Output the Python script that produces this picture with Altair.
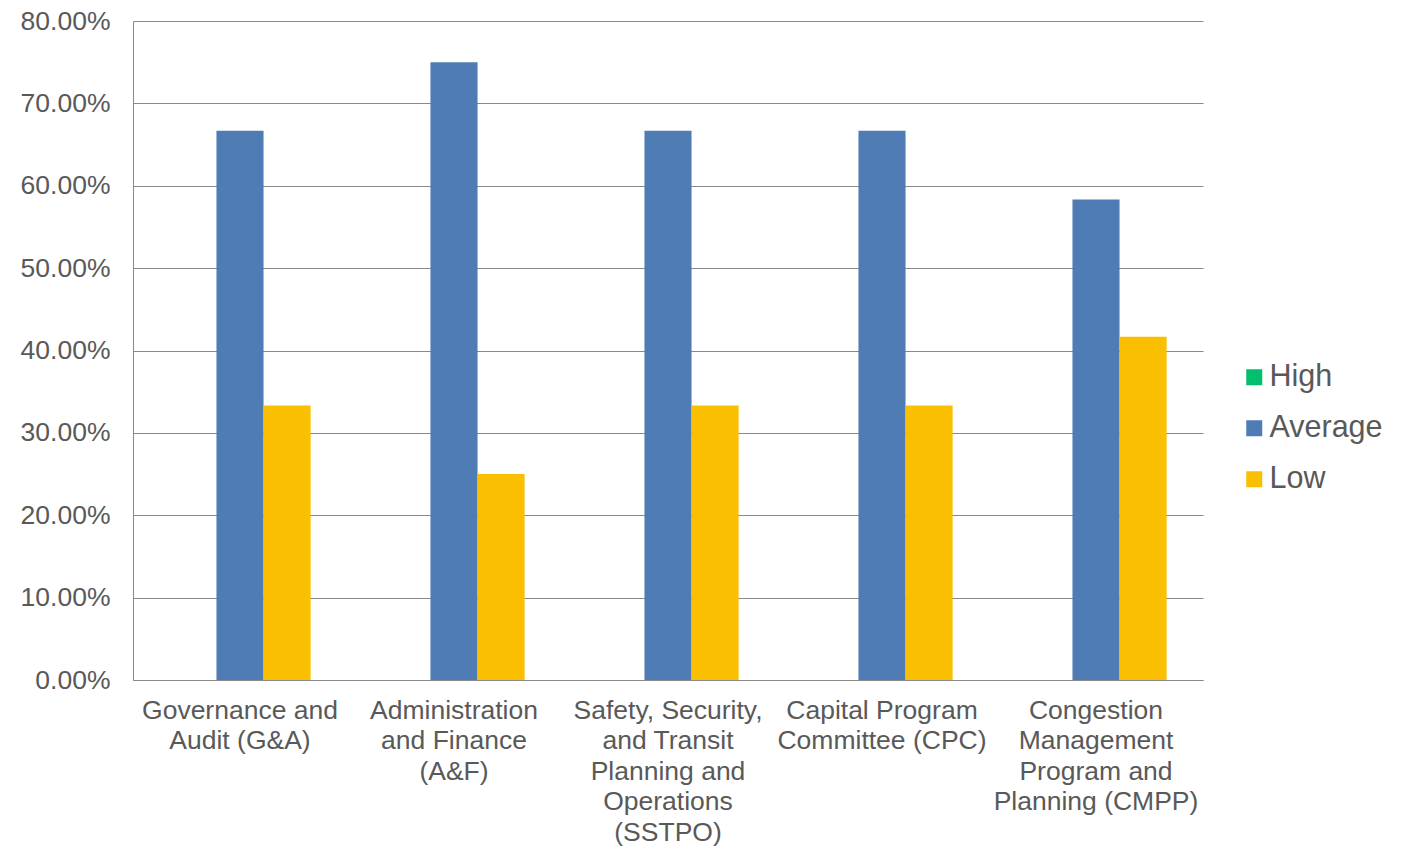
import altair as alt
import pandas as pd

categories = [
    "Governance and|Audit (G&A)",
    "Administration|and Finance|(A&F)",
    "Safety, Security,|and Transit|Planning and|Operations|(SSTPO)",
    "Capital Program|Committee (CPC)",
    "Congestion|Management|Program and|Planning (CMPP)",
]
series = ["High", "Average", "Low"]
high = [0.0, 0.0, 0.0, 0.0, 0.0]
average = [0.6667, 0.75, 0.6667, 0.6667, 0.5833]
low = [0.3333, 0.25, 0.3333, 0.3333, 0.4167]
colors = ["#00BF6F", "#4F7CB5", "#F9BF00"]
y_ticks = [0, 0.1, 0.2, 0.3, 0.4, 0.5, 0.6, 0.7, 0.8]

rows = []
for i, c in enumerate(categories):
    for s, vals in zip(series, [high, average, low]):
        rows.append({"category": c, "series": s, "value": vals[i]})
df = pd.DataFrame(rows)

FONT = "Liberation Sans"
GRAY = "#595959"

chart = alt.Chart(df).mark_bar().encode(
    x=alt.X(
        "category:N",
        sort=categories,
        scale=alt.Scale(paddingInner=0.34, paddingOuter=0.17),
        axis=alt.Axis(
            title=None,
            labelAngle=0,
            labelExpr="split(datum.label, '|')",
            labelFontSize=26.5,
            labelLineHeight=30.5,
            labelColor=GRAY,
            labelFont=FONT,
            labelPadding=17,
            labelLimit=400,
            ticks=False,
            domainColor="#898989",
            grid=False,
        ),
    ),
    xOffset=alt.XOffset("series:N", sort=series),
    y=alt.Y(
        "value:Q",
        scale=alt.Scale(domain=[0, 0.8], nice=False),
        axis=alt.Axis(
            title=None,
            format=".2%",
            values=y_ticks,
            labelFontSize=26.5,
            labelColor=GRAY,
            labelFont=FONT,
            labelPadding=23,
            ticks=False,
            domainColor="#898989",
            gridColor="#898989",
        ),
    ),
    color=alt.Color(
        "series:N",
        sort=series,
        scale=alt.Scale(domain=series, range=colors),
        legend=alt.Legend(
            title=None,
            orient="none",
            legendX=1106,
            legendY=341,
            symbolType="square",
            symbolSize=256,
            symbolStrokeWidth=0,
            labelFontSize=30.5,
            labelFont=FONT,
            labelColor=GRAY,
            rowPadding=20,
            labelOffset=0,
        ),
    ),
).properties(
    width=1070,
    height=659,
    background="white",
    autosize=alt.AutoSizeParams(type="none"),
    padding={"left": 125, "top": 13, "right": 200, "bottom": 170},
).configure_view(stroke=None)

chart.save("out.html", embed_options={"renderer": "svg", "actions": False})
